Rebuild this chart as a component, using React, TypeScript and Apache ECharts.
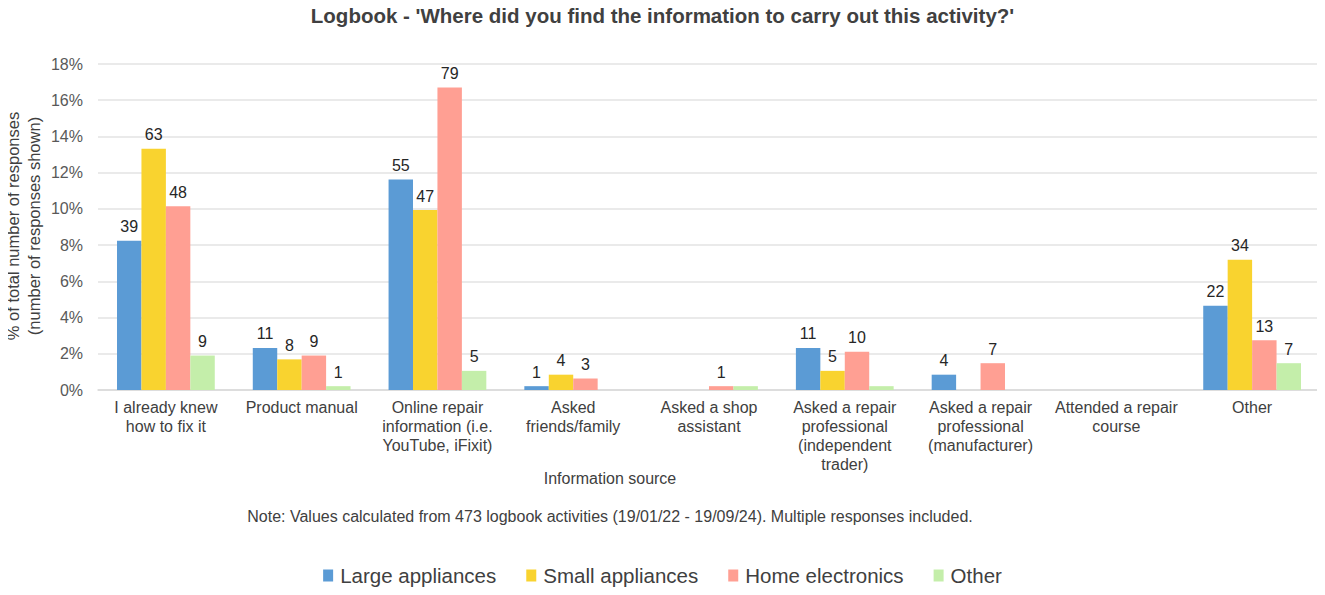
import React, { useEffect, useRef } from "react";
import * as echarts from "echarts";

const TOTAL = 473;
const categories = [
  "I already knew\nhow to fix it",
  "Product manual",
  "Online repair\ninformation (i.e.\nYouTube, iFixit)",
  "Asked\nfriends/family",
  "Asked a shop\nassistant",
  "Asked a repair\nprofessional\n(independent\ntrader)",
  "Asked a repair\nprofessional\n(manufacturer)",
  "Attended a repair\ncourse",
  "Other",
];
const largeAppliances = [39, 11, 55, 1, 0, 11, 4, 0, 22];
const smallAppliances = [63, 8, 47, 4, 0, 5, 0, 0, 34];
const homeElectronics = [48, 9, 79, 3, 1, 10, 7, 0, 13];
const otherCat = [9, 1, 5, 0, 1, 1, 0, 0, 7];
// labels not shown in the reference (overlapping small bars)
const hiddenLabels: Record<string, number[]> = { Other: [4, 5] };

const yTicks = [0, 2, 4, 6, 8, 10, 12, 14, 16, 18];

const seriesDefs = [
  { name: "Large appliances", data: largeAppliances, color: "#5B9BD5" },
  { name: "Small appliances", data: smallAppliances, color: "#F9D32F" },
  { name: "Home electronics", data: homeElectronics, color: "#FF9F93" },
  { name: "Other", data: otherCat, color: "#C4EEAA" },
];

const FONT = "Liberation Sans, Arial, sans-serif";

export default function App() {
  const ref = useRef<HTMLDivElement>(null);
  useEffect(() => {
    if (!ref.current) return;
    const chart = echarts.init(ref.current, undefined, { renderer: "svg" });
    chart.setOption({
      animation: false,
      textStyle: { fontFamily: FONT },
      title: {
        text: "Logbook - 'Where did you find the information to carry out this activity?'",
        left: "center",
        top: 0,
        textStyle: { fontSize: 20.5, fontWeight: "bold", color: "#404040", fontFamily: FONT },
      },
      legend: {
        bottom: 4,
        left: "center",
        itemWidth: 10,
        itemHeight: 12,
        itemGap: 30,
        icon: "rect",
        textStyle: { fontSize: 20.5, color: "#404040", fontFamily: FONT, padding: [0, 0, 0, 2] },
        data: seriesDefs.map((s) => s.name),
      },
      grid: { left: 98, right: 5, top: 64, bottom: 205, containLabel: false, outerBoundsMode: "none" },
      xAxis: {
        type: "category",
        data: categories,
        axisTick: { show: false },
        axisLine: { lineStyle: { color: "#D9D9D9", width: 1.5 } },
        axisLabel: {
          interval: 0,
          fontSize: 16,
          lineHeight: 19,
          color: "#404040",
          margin: 8,
          verticalAlign: "top",
          fontFamily: FONT,
        },
      },
      yAxis: {
        type: "value",
        min: 0,
        max: 18,
        interval: 2,
        axisLine: { show: false },
        axisTick: { show: false },
        splitLine: { lineStyle: { color: "#E3E3E3", width: 1.5 } },
        axisLabel: {
          fontSize: 16,
          color: "#595959",
          margin: 15,
          fontFamily: FONT,
          formatter: (v: number) => (yTicks.includes(v) ? v + "%" : ""),
        },
      },
      series: seriesDefs.map((s) => ({
        name: s.name,
        type: "bar",
        barGap: "0%",
        barCategoryGap: "28%",
        itemStyle: { color: s.color },
        label: {
          show: true,
          position: "top",
          distance: 6,
          fontSize: 16,
          color: "#262626",
          fontFamily: FONT,
          formatter: (p: any) => String(s.data[p.dataIndex]),
        },
        data: s.data.map((c, i) => {
          const hide = c === 0 || (hiddenLabels[s.name] || []).includes(i);
          return hide ? { value: (c / TOTAL) * 100, label: { show: false } } : (c / TOTAL) * 100;
        }),
      })),
      graphic: [
        {
          type: "text",
          x: 23,
          y: 226,
          rotation: Math.PI / 2,
          style: {
            text: "% of total number of responses\n(number of responses shown)",
            fontSize: 16.5,
            lineHeight: 21,
            fill: "#404040",
            fontFamily: FONT,
            align: "center",
            verticalAlign: "middle",
          },
        },
        {
          type: "text",
          x: 610,
          y: 478,
          style: {
            text: "Information source",
            fontSize: 16,
            fill: "#404040",
            fontFamily: FONT,
            align: "center",
            verticalAlign: "middle",
          },
        },
        {
          type: "text",
          x: 610,
          y: 516,
          style: {
            text: "Note: Values calculated from 473 logbook activities (19/01/22 - 19/09/24). Multiple responses included.",
            fontSize: 16,
            fill: "#404040",
            fontFamily: FONT,
            align: "center",
            verticalAlign: "middle",
          },
        },
      ],
    });
    return () => chart.dispose();
  }, []);
  return <div ref={ref} style={{ width: 1325, height: 595, margin: -8 }} />;
}
